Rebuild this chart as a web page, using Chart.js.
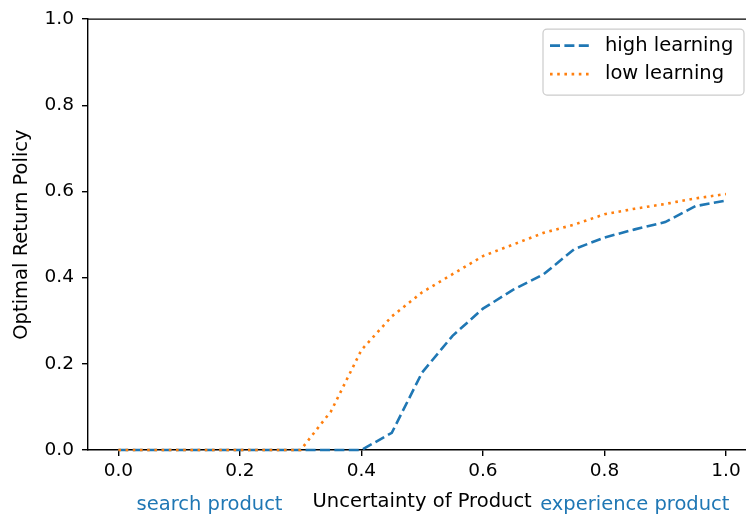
<!DOCTYPE html>
<html>
<head>
<meta charset="utf-8">
<script src="https://cdn.jsdelivr.net/npm/chart.js@4.4.0/dist/chart.umd.min.js"></script>
<style>
html, body { margin:0; padding:0; background:#fff; }
#wrap { width:746px; height:520px; }
</style>
</head>
<body>
<div id="wrap"><canvas id="canvas" width="746" height="520"></canvas></div>
<script>
//DATA
var uncertainty  = [0.0,0.05,0.1,0.15,0.2,0.25,0.3,0.35,0.4,0.45,0.5,0.55,0.6,0.65,0.7,0.75,0.8,0.85,0.9,0.95,1.0];
var highLearning = [0,0,0,0,0,0,0,0,0,0.04,0.18,0.265,0.328,0.372,0.408,0.466,0.493,0.512,0.529,0.566,0.579];
var lowLearning  = [0,0,0,0,0,0,0,0.09,0.232,0.31,0.366,0.408,0.45,0.477,0.504,0.523,0.547,0.56,0.571,0.584,0.594];
var seriesNames  = ['high learning','low learning'];
var xTicks = [0.0,0.2,0.4,0.6,0.8,1.0];
var yTicks = [0.0,0.2,0.4,0.6,0.8,1.0];
var xLabel = 'Uncertainty of Product';
var yLabel = 'Optimal Return Policy';
var noteText = ['search product','experience product'];
var noteAt   = [0.15,0.85];
//-------------

var FONT = '"DejaVu Sans", sans-serif';
var blue = '#1f77b4', orange = '#ff7f0e';

function toPoints(ys) {
    return uncertainty.map(function(x, i) { return {x:x, y:ys[i]}; });
}

// top spine, x label, notes and legend box
var extras = {
    id: 'extras',
    afterDraw: function(chart) {
        var ctx = chart.ctx, a = chart.chartArea, xs = chart.scales.x;
        ctx.save();
        ctx.strokeStyle = '#000';
        ctx.lineWidth = 1.4;
        ctx.beginPath();
        ctx.moveTo(a.left, a.top);
        ctx.lineTo(a.right, a.top);
        ctx.stroke();

        ctx.font = '19.5px ' + FONT;
        ctx.textAlign = 'center';
        ctx.textBaseline = 'alphabetic';
        ctx.fillStyle = '#000';
        ctx.fillText(xLabel, xs.getPixelForValue(0.5), 507);
        ctx.fillStyle = blue;
        for (var n in noteText) {
            ctx.fillText(noteText[n], xs.getPixelForValue(noteAt[n]), 510);
        }

        // legend
        var bx = a.right - 203, by = a.top + 10, bw = 201, bh = 66;
        ctx.beginPath();
        ctx.roundRect(bx, by, bw, bh, 4);
        ctx.fillStyle = 'rgba(255,255,255,0.8)';
        ctx.fill();
        ctx.strokeStyle = '#cccccc';
        ctx.lineWidth = 1.2;
        ctx.stroke();
        var sets = chart.data.datasets;
        for (var i = 0; i < sets.length; i++) {
            var ry = by + 16.5 + i * 28.5;
            ctx.beginPath();
            ctx.setLineDash(sets[i].borderDash);
            ctx.strokeStyle = sets[i].borderColor;
            ctx.lineWidth = sets[i].borderWidth;
            ctx.moveTo(bx + 7, ry);
            ctx.lineTo(bx + 46, ry);
            ctx.stroke();
            ctx.setLineDash([]);
            ctx.fillStyle = '#000';
            ctx.textAlign = 'left';
            ctx.textBaseline = 'middle';
            ctx.fillText(sets[i].label, bx + 62, ry);
        }
        ctx.restore();
    }
};

var tickGrid = {display:true, drawOnChartArea:false, drawTicks:true, tickLength:6, color:'#000', lineWidth:1.4};

var config = {
    type: 'line',
    data: {
        datasets: [
            {label:seriesNames[0], data:toPoints(highLearning), borderColor:blue, borderWidth:2.6,
             borderDash:[10,4.4], pointRadius:0, fill:false, tension:0, order:1, clip:4},
            {label:seriesNames[1], data:toPoints(lowLearning), borderColor:orange, borderWidth:2.6,
             borderDash:[2.6,4.6], pointRadius:0, fill:false, tension:0, order:0, clip:4}
        ]
    },
    options: {
        responsive: false,
        animation: false,
        devicePixelRatio: 1,
        layout: {padding: {top:17, right:0, bottom:0, left:0}},
        plugins: {legend:{display:false}, tooltip:{enabled:false}},
        scales: {
            x: {
                type: 'linear', min: -0.05, max: 1.033,
                afterBuildTicks: function(s) { s.ticks = xTicks.map(function(v){ return {value:v}; }); },
                afterFit: function(s) { s.height = 70; },
                ticks: {callback:function(v){ return v.toFixed(1); }, font:{family:FONT, size:18.5}, color:'#000',
                        padding:4, maxRotation:0, autoSkip:false},
                grid: tickGrid,
                border: {display:true, color:'#000', width:1.4}
            },
            y: {
                type: 'linear', min: 0, max: 1,
                afterBuildTicks: function(s) { s.ticks = yTicks.map(function(v){ return {value:v}; }); },
                afterFit: function(s) { s.width = 88; },
                ticks: {callback:function(v){ return v.toFixed(1); }, font:{family:FONT, size:18.5}, color:'#000',
                        padding:8, autoSkip:false},
                grid: tickGrid,
                border: {display:true, color:'#000', width:1.4},
                title: {display:true, text:yLabel, color:'#000', font:{family:FONT, size:19.5}, padding:{top:10, bottom:0}}
            }
        }
    },
    plugins: [extras]
};

var chart = new Chart(document.getElementById('canvas').getContext('2d'), config);
</script>
</body>
</html>
